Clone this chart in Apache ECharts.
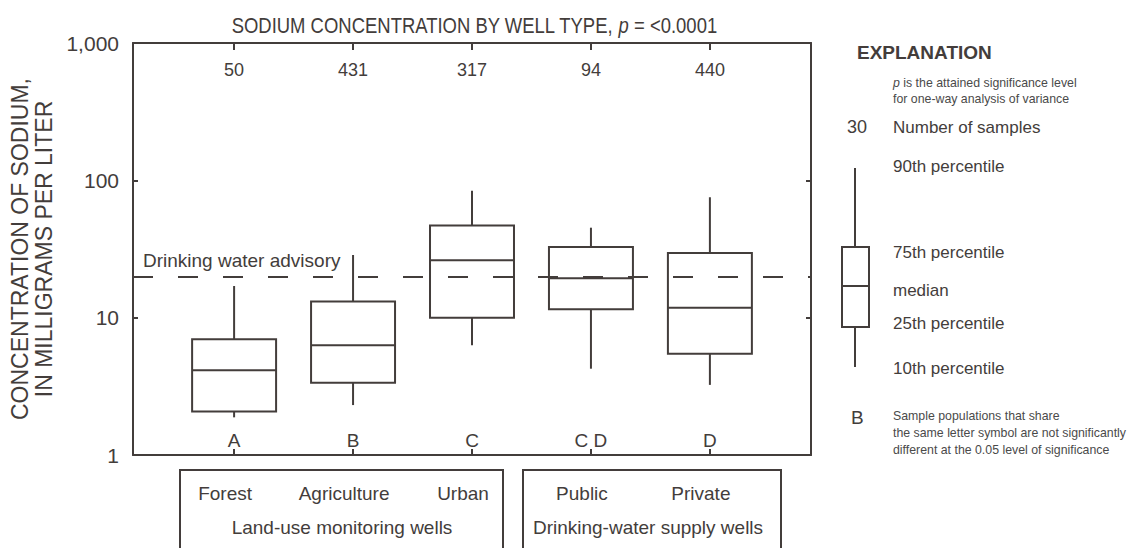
<!DOCTYPE html>
<html lang="en">

<head>
    <meta charset="UTF-8">
    <title>Sodium concentration by well type</title>
    <style>
        html, body {
            margin: 0;
            padding: 0;
            background: #fff;
        }

        .main {
            width: 1133px;
            height: 548px;
        }
    </style>
    <script src="https://cdn.jsdelivr.net/npm/echarts@6/dist/echarts.min.js"></script>
</head>

<body>
    <div class="main"></div>
    <script>
        // 数据
        var wellTypes = ['Forest', 'Agriculture', 'Urban', 'Public', 'Private'];
        var sampleCounts = ['50', '431', '317', '94', '440'];
        var groupLetters = ['A', 'B', 'C', 'C D', 'D'];
        // 10th, 25th, median, 75th, 90th percentile (mg/L)
        var p10 = [1.88, 2.31, 6.3, 4.25, 3.24];
        var p25 = [2.07, 3.36, 10.0, 11.5, 5.47];
        var p50 = [4.14, 6.3, 26.2, 19.4, 11.8];
        var p75 = [6.96, 13.1, 46.8, 32.7, 29.6];
        var p90 = [17.0, 28.6, 84.0, 45.2, 75.3];
        var advisory = 20;
        var yTicks = [1, 10, 100, 1000];

        var ink = '#433d3b';
        var font = "'Liberation Sans', Arial, sans-serif";

        var boxData = [];
        for (var i = 0; i < wellTypes.length; i++) {
            boxData.push([i, p10[i], p25[i], p50[i], p75[i], p90[i]]);
        }
        var catIdx = wellTypes.map(function (d, i) { return i; });

        function renderBox(params, api) {
            var x = api.value(0);
            var hw = 0.353;
            var lo = api.coord([x, api.value(1)]);
            var q1L = api.coord([x - hw, api.value(2)]);
            var q1R = api.coord([x + hw, api.value(2)]);
            var mdL = api.coord([x - hw, api.value(3)]);
            var mdR = api.coord([x + hw, api.value(3)]);
            var q3L = api.coord([x - hw, api.value(4)]);
            var hi = api.coord([x, api.value(5)]);
            var style = { stroke: ink, lineWidth: 2, fill: null };
            return {
                type: 'group',
                children: [
                    { type: 'line', shape: { x1: lo[0], y1: lo[1], x2: lo[0], y2: q1L[1] }, style: style },
                    { type: 'line', shape: { x1: hi[0], y1: hi[1], x2: hi[0], y2: q3L[1] }, style: style },
                    { type: 'rect', shape: { x: q3L[0], y: q3L[1], width: q1R[0] - q1L[0], height: q1L[1] - q3L[1] }, style: style },
                    { type: 'line', shape: { x1: mdL[0], y1: mdL[1], x2: mdR[0], y2: mdR[1] }, style: style }
                ]
            };
        }

        var myChart = echarts.init(document.querySelector('.main'), null, { renderer: 'svg' });

        // 原图是窄体字，这里用 scaleX 压一下
        var txt = function (text, x, y, size, extra, sx) {
            var s = {
                text: text,
                fill: ink,
                font: size + 'px ' + font,
                verticalAlign: 'middle'
            };
            for (var k in extra) { s[k] = extra[k]; }
            return { type: 'text', x: x, y: y, scaleX: sx || 1, style: s, silent: true };
        };

        var axisLine = { show: true, onZero: false, lineStyle: { color: ink, width: 2 } };

        var option = {
            backgroundColor: '#fff',
            animation: false,
            textStyle: { fontFamily: font, color: ink },
            grid: { left: 133, top: 43, width: 678, height: 412, outerBoundsMode: 'none' },
            xAxis: [
                {
                    // 底部：显著性字母
                    type: 'value', position: 'bottom', min: -0.85, max: 4.85,
                    axisLine: axisLine,
                    axisTick: { show: true, inside: true, length: 6, customValues: catIdx, lineStyle: { color: ink, width: 2 } },
                    axisLabel: {
                        show: true, inside: true, margin: 5, customValues: catIdx,
                        fontSize: 19, color: ink, fontFamily: font,
                        formatter: function (v) { return groupLetters[Math.round(v)]; }
                    },
                    splitLine: { show: false }
                },
                {
                    // 顶部：样本数
                    type: 'value', position: 'top', min: -0.85, max: 4.85,
                    axisLine: axisLine,
                    axisTick: { show: true, inside: true, length: 7, customValues: catIdx, lineStyle: { color: ink, width: 2 } },
                    axisLabel: {
                        show: true, inside: true, margin: 18, customValues: catIdx,
                        fontSize: 18, color: ink, fontFamily: font,
                        formatter: function (v) { return sampleCounts[Math.round(v)]; }
                    },
                    splitLine: { show: false }
                },
                {
                    // 井类型名称
                    type: 'value', position: 'bottom', min: -0.85, max: 4.85,
                    axisLine: { show: false },
                    axisTick: { show: false },
                    axisLabel: {
                        show: true, margin: 29, customValues: catIdx,
                        fontSize: 19, color: ink, fontFamily: font, padding: [0, 18, 0, 0],
                        formatter: function (v) { return wellTypes[Math.round(v)]; }
                    },
                    splitLine: { show: false }
                }
            ],
            yAxis: [
                {
                    type: 'log', logBase: 10, min: 1, max: 1000, position: 'left',
                    name: 'CONCENTRATION OF SODIUM,\nIN MILLIGRAMS PER LITER',
                    nameLocation: 'middle', nameRotate: 90, nameGap: 76,
                    nameTextStyle: { fontSize: 23, lineHeight: 24, color: ink, fontFamily: font },
                    axisLine: axisLine,
                    axisTick: { show: true, inside: true, length: 5, customValues: yTicks, lineStyle: { color: ink, width: 2 } },
                    axisLabel: {
                        margin: 14, fontSize: 21, color: ink, fontFamily: font, customValues: yTicks,
                        formatter: function (v) { return v >= 1000 ? '1,000' : String(v); }
                    },
                    minorTick: { show: false },
                    splitLine: { show: false }
                },
                {
                    type: 'log', logBase: 10, min: 1, max: 1000, position: 'right',
                    axisLine: axisLine,
                    axisTick: { show: true, inside: true, length: 5, customValues: yTicks, lineStyle: { color: ink, width: 2 } },
                    axisLabel: { show: false },
                    splitLine: { show: false }
                }
            ],
            series: [
                {
                    type: 'custom',
                    xAxisIndex: 0,
                    yAxisIndex: 0,
                    renderItem: renderBox,
                    encode: { x: 0, y: [1, 2, 3, 4, 5] },
                    data: boxData,
                    silent: true,
                    z: 3
                },
                {
                    type: 'line',
                    xAxisIndex: 0,
                    yAxisIndex: 0,
                    data: [],
                    silent: true,
                    markLine: {
                        silent: true,
                        symbol: 'none',
                        data: [{ yAxis: advisory }],
                        lineStyle: { color: ink, width: 2, type: [20, 25] },
                        label: {
                            show: true,
                            position: 'insideStartTop',
                            formatter: 'Drinking water advisory',
                            fontSize: 19, color: ink, fontFamily: font,
                            distance: [10, 6]
                        }
                    }
                }
            ],
            graphic: [
                // 标题
                txt('SODIUM CONCENTRATION BY WELL TYPE, {i|p} = <0.0001', 474, 25, 22, {
                    textAlign: 'center',
                    rich: { i: { fontStyle: 'italic', fontSize: 22, fontFamily: font, fill: ink } }
                }, 0.84),

                // 井组外框
                { type: 'rect', shape: { x: 180, y: 470, width: 323, height: 120 }, style: { stroke: ink, lineWidth: 2, fill: null }, silent: true },
                { type: 'rect', shape: { x: 523, y: 470, width: 258, height: 120 }, style: { stroke: ink, lineWidth: 2, fill: null }, silent: true },
                txt('Land-use monitoring wells', 342, 527, 19, { textAlign: 'center' }),
                txt('Drinking-water supply wells', 648, 527, 19, { textAlign: 'center' }),

                // 图例
                txt('EXPLANATION', 857, 52, 19, { font: 'bold 19px ' + font }),
                txt('{i|p} is the attained significance level\nfor one-way analysis of variance', 893, 91, 13, {
                    lineHeight: 16, fill: '#4a4a4a',
                    rich: { i: { fontStyle: 'italic', fontSize: 13, fontFamily: font, fill: '#4a4a4a' } }
                }, 0.95),
                txt('30', 867, 127, 18, { textAlign: 'right' }),
                txt('Number of samples', 893, 127, 17),
                txt('90th percentile', 893, 166, 17),
                txt('75th percentile', 893, 252, 17),
                txt('median', 893, 290, 17),
                txt('25th percentile', 893, 323, 17),
                txt('10th percentile', 893, 368, 17),
                { type: 'line', shape: { x1: 855, y1: 168, x2: 855, y2: 247 }, style: { stroke: ink, lineWidth: 2 }, silent: true },
                { type: 'rect', shape: { x: 842, y: 247, width: 27, height: 80 }, style: { stroke: ink, lineWidth: 2, fill: null }, silent: true },
                { type: 'line', shape: { x1: 842, y1: 286, x2: 869, y2: 286 }, style: { stroke: ink, lineWidth: 2 }, silent: true },
                { type: 'line', shape: { x1: 855, y1: 327, x2: 855, y2: 367 }, style: { stroke: ink, lineWidth: 2 }, silent: true },
                txt('B', 851, 417, 19),
                txt('Sample populations that share\nthe same letter symbol are not significantly\ndifferent at the 0.05 level of significance', 893, 433, 13, {
                    lineHeight: 17, fill: '#4a4a4a'
                }, 0.95)
            ]
        };

        myChart.setOption(option);
    </script>
</body>

</html>
